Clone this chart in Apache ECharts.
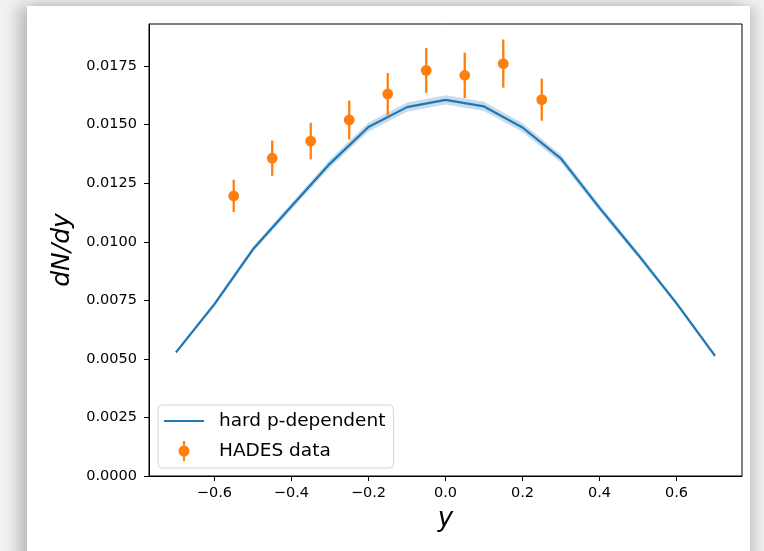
<!DOCTYPE html>
<html>
<head>
<meta charset="utf-8">
<script src="https://cdn.jsdelivr.net/npm/echarts@6/dist/echarts.min.js"></script>
<style>
  html, body { margin: 0; padding: 0; }
  body { width: 764px; height: 551px; overflow: hidden; background: #f1f1f1; position: relative; }
  #panel {
    position: absolute; left: 27px; top: 6px; width: 723px; height: 580px;
    background: #ffffff;
    box-shadow: -9px 0 14px rgba(0,0,0,0.22), 7px 0 10px rgba(0,0,0,0.13);
  }
  #chart { position: absolute; left: 0; top: 0; width: 764px; height: 551px; }
</style>
</head>
<body>
<div id="panel"></div>
<div id="chart"></div>
<script>
// Model curve: rapidity y and dN/dy with its uncertainty half-width
const modelY    = [-0.7, -0.6, -0.5, -0.4, -0.3, -0.2, -0.1, 0.0, 0.1, 0.2, 0.3, 0.4, 0.5, 0.6, 0.7];
const modelDNdy = [0.00528, 0.00734, 0.00968, 0.01152, 0.01334, 0.01490, 0.01575, 0.01606,
                   0.01578, 0.01488, 0.01355, 0.01145, 0.00945, 0.00737, 0.00513];
const modelErr  = [0.00008, 0.00010, 0.00012, 0.00014, 0.00017, 0.00019, 0.00020, 0.00020,
                   0.00020, 0.00019, 0.00017, 0.00014, 0.00012, 0.00010, 0.00008];

// Measured points with error bars
const hadesY    = [-0.55, -0.45, -0.35, -0.25, -0.15, -0.05, 0.05, 0.15, 0.25];
const hadesDNdy = [0.01196, 0.01357, 0.01430, 0.01520, 0.01631, 0.01732, 0.01711, 0.01761, 0.01607];
const hadesErr  = [0.00069, 0.00075, 0.00078, 0.00083, 0.00090, 0.00096, 0.00097, 0.00103, 0.00090];

// Axis ticks
const xTicks = [-0.6, -0.4, -0.2, 0.0, 0.2, 0.4, 0.6];
const yTicks = [0, 0.0025, 0.005, 0.0075, 0.01, 0.0125, 0.015, 0.0175];

const BLUE = '#1f77b4';
const ORANGE = '#ff7f0e';
const FONT = 'DejaVu Sans';

const chart = echarts.init(document.getElementById('chart'), null, { renderer: 'canvas' });

// legend glyphs: a short line segment, and a dot with a vertical error bar
const legendLine = 'path://M0,0 H40 V2.2 H0 Z';
const legendMarker = 'path://M4.4,0 H6.6 V20 H4.4 Z M0,10 A5.5,5.5 0 1 1 11,10 A5.5,5.5 0 1 1 0,10 Z';

chart.setOption({
  animation: false,
  backgroundColor: 'transparent',
  grid: {
    left: 149, top: 24, width: 593, height: 452,
    show: true, borderColor: '#000', borderWidth: 1, backgroundColor: 'transparent'
  },
  xAxis: {
    type: 'value', min: -0.77, max: 0.77,
    name: 'y', nameLocation: 'middle', nameGap: 28,
    nameTextStyle: { fontFamily: FONT, fontStyle: 'italic', fontSize: 26, color: '#000' },
    axisLine: { show: true, onZero: false, lineStyle: { color: '#000', width: 1 } },
    axisTick: { show: true, length: 5, lineStyle: { color: '#000', width: 1 }, customValues: xTicks },
    axisLabel: {
      customValues: xTicks, margin: 10, color: '#000', fontFamily: FONT, fontSize: 14.5,
      formatter: v => (v < 0 ? '\u2212' : '') + Math.abs(v).toFixed(1)
    },
    splitLine: { show: false }
  },
  yAxis: {
    type: 'value', min: 0, max: 0.0193,
    name: 'dN/dy', nameLocation: 'middle', nameGap: 74,
    nameTextStyle: { fontFamily: FONT, fontStyle: 'italic', fontSize: 25, color: '#000' },
    axisLine: { show: true, onZero: false, lineStyle: { color: '#000', width: 1 } },
    axisTick: { show: true, length: 5, lineStyle: { color: '#000', width: 1 }, customValues: yTicks },
    axisLabel: {
      customValues: yTicks, margin: 12, color: '#000', fontFamily: FONT, fontSize: 14.5,
      formatter: v => v.toFixed(4)
    },
    splitLine: { show: false }
  },
  legend: {
    orient: 'vertical', left: 158, top: 405,
    padding: [5, 8, 6, 6], itemGap: 8,
    itemWidth: 40, itemHeight: 20,
    backgroundColor: 'rgba(255,255,255,0.8)',
    borderColor: '#d5d5d5', borderWidth: 1, borderRadius: 4,
    textStyle: { fontFamily: FONT, fontSize: 18.5, color: '#000', lineHeight: 22, padding: [0, 0, 0, 10] },
    data: [
      { name: 'hard p-dependent', icon: legendLine, itemStyle: { color: BLUE } },
      { name: 'HADES data', icon: legendMarker, itemStyle: { color: ORANGE } }
    ]
  },
  series: [
    {
      // uncertainty band around the model curve
      name: 'band',
      type: 'custom',
      silent: true,
      z: 1,
      data: modelY.map((x, i) => [x, modelDNdy[i]]),
      encode: { x: 0, y: 1 },
      renderItem: (params, api) => {
        if (params.dataIndex !== 0) return null;
        const pts = [];
        for (let i = 0; i < modelY.length; i++) pts.push(api.coord([modelY[i], modelDNdy[i] + modelErr[i]]));
        for (let i = modelY.length - 1; i >= 0; i--) pts.push(api.coord([modelY[i], modelDNdy[i] - modelErr[i]]));
        return { type: 'polygon', shape: { points: pts }, style: { fill: '#c8dced' } };
      }
    },
    {
      name: 'hard p-dependent',
      type: 'line',
      z: 2,
      symbol: 'none',
      data: modelY.map((x, i) => [x, modelDNdy[i]]),
      lineStyle: { color: BLUE, width: 2.2 },
      itemStyle: { color: BLUE }
    },
    {
      name: 'HADES data',
      type: 'custom',
      z: 3,
      data: hadesY.map((x, i) => [x, hadesDNdy[i], hadesErr[i]]),
      encode: { x: 0, y: 1 },
      itemStyle: { color: ORANGE },
      renderItem: (params, api) => {
        const x = api.value(0), v = api.value(1), e = api.value(2);
        const c = api.coord([x, v]);
        const top = api.coord([x, v + e]);
        const bot = api.coord([x, v - e]);
        return {
          type: 'group',
          children: [
            { type: 'line', shape: { x1: top[0], y1: top[1], x2: bot[0], y2: bot[1] },
              style: { stroke: ORANGE, lineWidth: 2.3 } },
            { type: 'circle', shape: { cx: c[0], cy: c[1], r: 5.4 }, style: { fill: ORANGE } }
          ]
        };
      }
    }
  ]
});
</script>
</body>
</html>
